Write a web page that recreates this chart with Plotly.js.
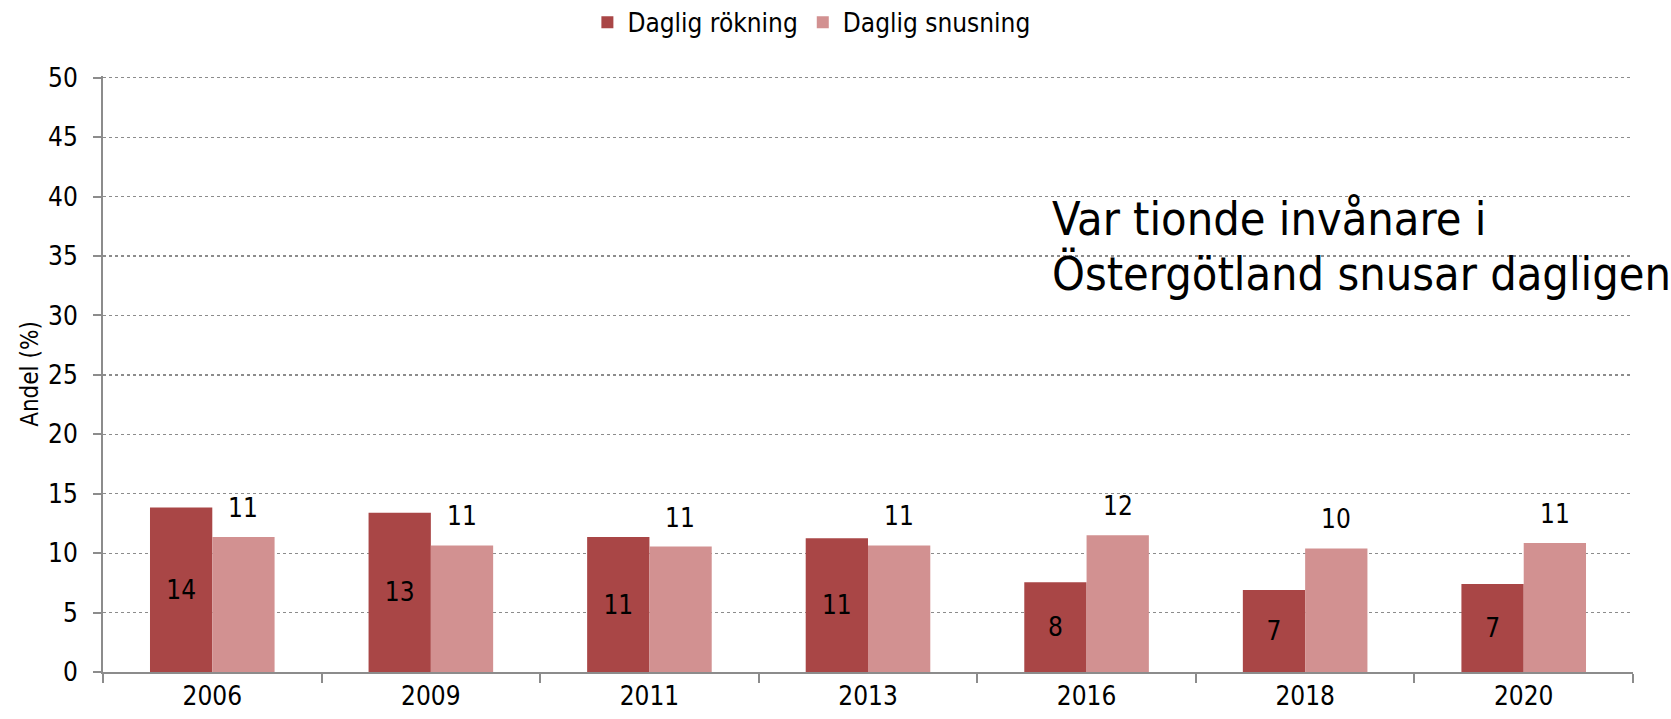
<!DOCTYPE html>
<html><head><meta charset="utf-8">
<script src="https://cdn.plot.ly/plotly-3.0.1.min.js"></script>
<style>html,body{margin:0;padding:0;background:#fff}#chart{width:1671px;height:719px}</style>
</head><body><div id="chart"></div>
<script>
const years = ['2006','2009','2011','2013','2016','2018','2020'];
const rokning = [13.85, 13.4, 11.35, 11.25, 7.55, 6.9, 7.4];
const snusning = [11.35, 10.65, 10.55, 10.65, 11.5, 10.4, 10.85];
const rokningLabels = ['14','13','11','11','8','7','7'];
const snusningLabels = ['11','11','11','11','12','10','11'];
const seriesNames = ['Daglig rökning','Daglig snusning'];
const noteLines = ['Var tionde invånare i', 'Östergötland snusar dagligen'];
const yTicks = [0,5,10,15,20,25,30,35,40,45,50];

const FONT = '"DejaVu Sans Condensed", "DejaVu Sans", Tahoma, sans-serif';
const FS = 26;

const traces = [
  {type:'bar', name: seriesNames[0], x: years, y: rokning, text: rokningLabels,
   textposition:'inside', insidetextanchor:'middle', textangle:0,
   textfont:{family:FONT, size:FS, color:'#000'},
   marker:{color:'#A94646'}, hoverinfo:'x+y'},
  {type:'bar', name: seriesNames[1], x: years, y: snusning,
   marker:{color:'#D29191'}, hoverinfo:'x+y'}
];

const annotations = years.map((yr,i)=>({
  x: i, y: snusning[i], xref:'x', yref:'y', text: snusningLabels[i],
  showarrow:false, xshift:31, yshift:12, yanchor:'bottom', xanchor:'center',
  font:{family:FONT, size:FS, color:'#000'}
}));
const noteShifts = [-5.5, -60.5];
noteLines.forEach((line, k) => annotations.push({
  x:0.619, y:41, xref:'paper', yref:'y', xanchor:'left', yanchor:'top', align:'left',
  yshift: noteShifts[k],
  text: line, showarrow:false, font:{family:FONT, size:46.5, color:'#000'}
}));

const layout = {
  width:1671, height:719,
  margin:{l:103, r:38, t:76.2, b:47, autoexpand:false},
  paper_bgcolor:'#fff', plot_bgcolor:'#fff',
  font:{family:FONT, size:FS, color:'#000'},
  barmode:'group', bargap:0.43, bargroupgap:0,
  showlegend:true,
  legend:{orientation:'h', x:0.463, xanchor:'center', y:1.09, yanchor:'middle',
          font:{family:FONT, size:FS}, traceorder:'normal'},
  xaxis:{type:'category', range:[-0.5, years.length-0.5], showline:true, linecolor:'#8c8c8c', linewidth:2,
         ticks:'outside', tickson:'boundaries', ticklen:9, tickcolor:'#8c8c8c', tickwidth:2,
         showgrid:false, tickfont:{family:FONT, size:FS}, zeroline:false, fixedrange:true, automargin:false},
  yaxis:{range:[0,50.15], tickvals:yTicks, showline:true, linecolor:'#8c8c8c', linewidth:2,
         ticks:'outside', ticklen:8, tickcolor:'#8c8c8c', tickwidth:2,
         showgrid:true, gridcolor:'#8c8c8c', griddash:'dot', gridwidth:1.3,
         zeroline:false, tickfont:{family:FONT, size:FS}, ticklabelstandoff:10, automargin:false,
         title:{text:'Andel (%)', font:{family:FONT, size:24}, standoff:3}, fixedrange:true},
  annotations: annotations
};

Plotly.newPlot('chart', traces, layout, {staticPlot:true});
</script></body></html>
